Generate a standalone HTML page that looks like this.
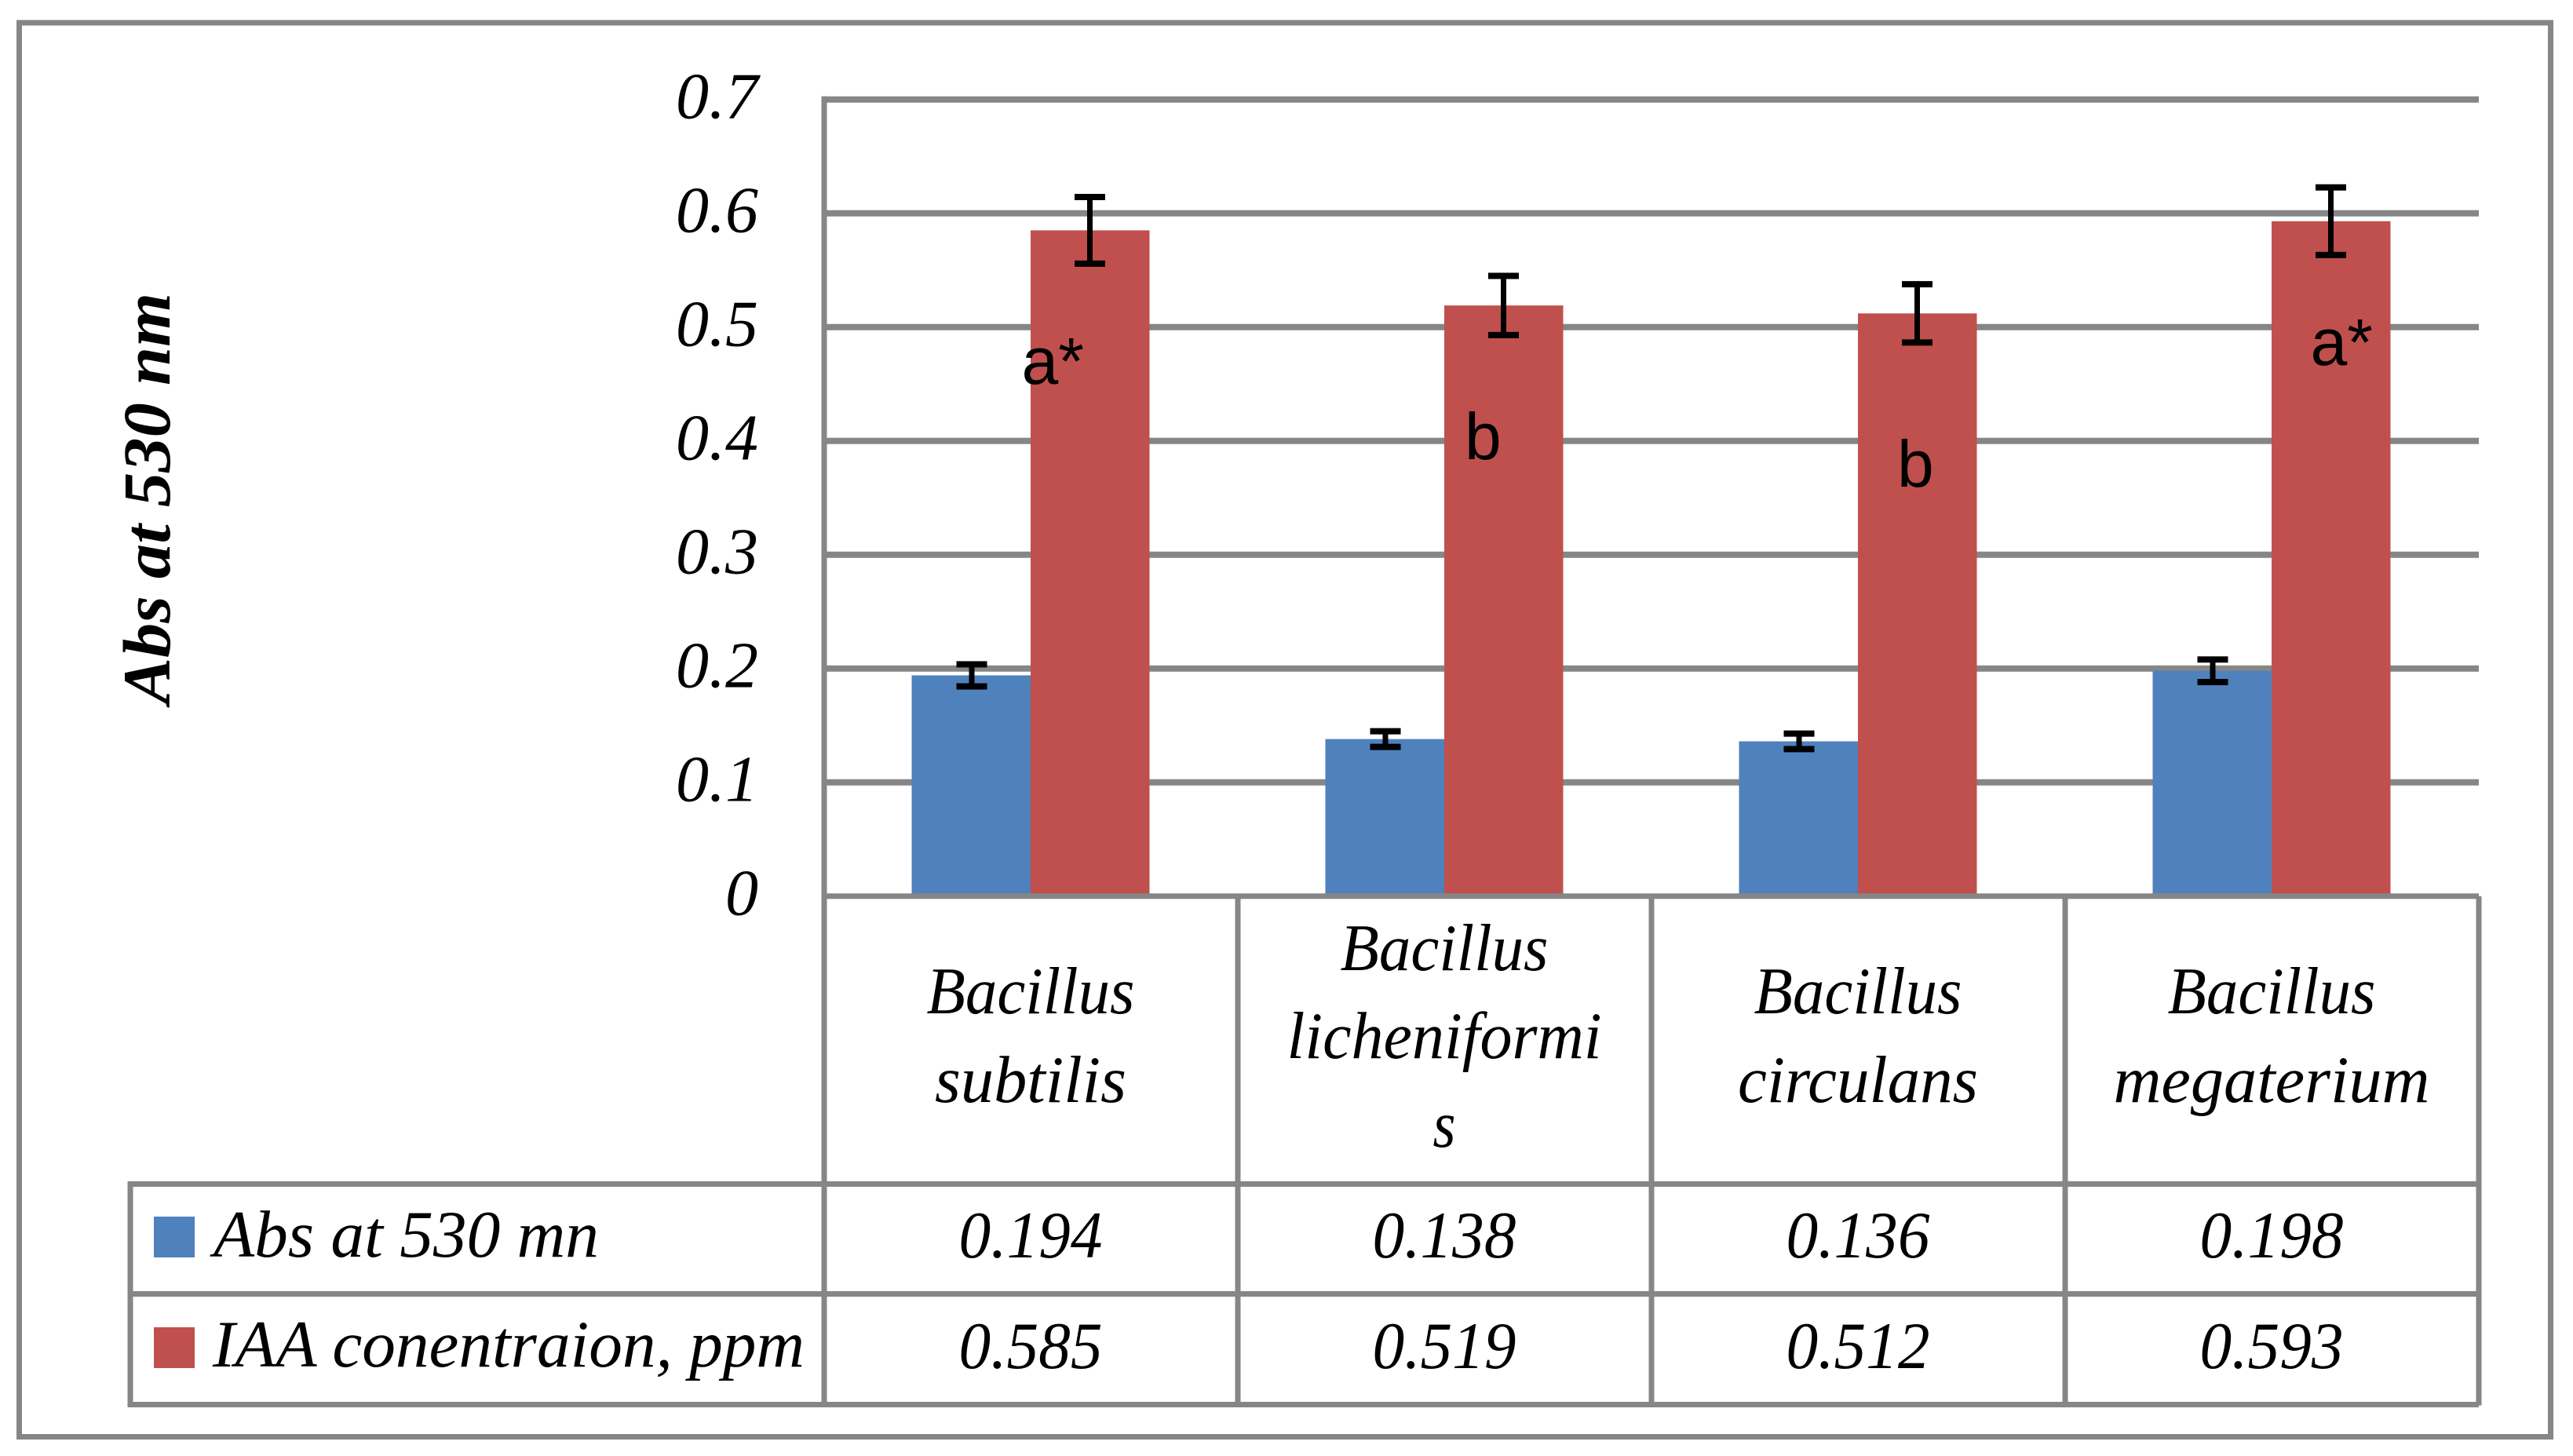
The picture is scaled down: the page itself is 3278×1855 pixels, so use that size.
<!DOCTYPE html>
<html lang="en">
<head>
<meta charset="utf-8">
<title>Abs at 530 nm and IAA concentration by Bacillus species</title>
<style>
html,body{margin:0;padding:0;background:#fff;}
svg{display:block;}
.serif{font-family:"Liberation Serif",serif;font-style:italic;fill:#000;}
.sans{font-family:"Liberation Sans",sans-serif;fill:#000;}
</style>
</head>
<body>
<svg id="chart" xmlns="http://www.w3.org/2000/svg" width="3278" height="1855" viewBox="0 0 3278 1855">
  <rect x="0" y="0" width="3278" height="1855" fill="#ffffff"/>
  <rect x="24.5" y="29" width="3225" height="1801.5" fill="none" stroke="#868686" stroke-width="7"/>
  <text class="serif" font-weight="bold" font-size="86" text-anchor="middle" textLength="524" lengthAdjust="spacingAndGlyphs" transform="translate(216 635) rotate(-90)">Abs at 530 nm</text>
</svg>
<script>
const categories = [['Bacillus','subtilis'],['Bacillus','licheniformi','s'],['Bacillus','circulans'],['Bacillus','megaterium']];
const seriesNames = ['Abs at 530 mn','IAA conentraion, ppm'];
const absValues = [0.194,0.138,0.136,0.198];
const iaaValues = [0.585,0.519,0.512,0.593];
const absErrors = [0.0097,0.0069,0.0068,0.0099];
const iaaErrors = [0.0293,0.0260,0.0256,0.0297];
const tickValues = [0,0.1,0.2,0.3,0.4,0.5,0.6,0.7];
const tickLabels = ['0','0.1','0.2','0.3','0.4','0.5','0.6','0.7'];
const significance = ['a*','b','b','a*'];

const svg = document.getElementById('chart');
const NS = 'http://www.w3.org/2000/svg';
const GRAY = '#868686';
const BLUE = '#4F81BD';
const RED = '#C0504D';
const PLOT = {left:1050, gridEnd:3158, top:126.7, zero:1141.7, pxPerUnit:1450, catWidth:527, barWidth:151.5};
const ROWS = {catBottom:1508.5, absBottom:1648.5, iaaBottom:1789.5, tableLeft:166};
const lineWidths = {'Bacillus':265,'subtilis':244,'licheniformi':401,'s':29,'circulans':306,'megaterium':403};
const catBaselines = {2:[1291,1404],3:[1236,1348,1461]};
const sigOffsetX = [-11.5,26,50,49.5];
const sigOffsetY = [195.5,195.9,220.7,183.2];

function yScale(v){ return PLOT.zero - v*PLOT.pxPerUnit; }
function xCenter(i){ return PLOT.left + PLOT.catWidth*(i+0.5) - 0.5; }

function mk(tag, attrs, txt){
  const el = document.createElementNS(NS, tag);
  for (const k in attrs) el.setAttribute(k, attrs[k]);
  if (txt !== undefined) el.textContent = txt;
  svg.appendChild(el);
  return el;
}
function ln(x1,y1,x2,y2,color,w){
  return mk('line',{x1:x1,y1:y1,x2:x2,y2:y2,stroke:color,'stroke-width':w});
}

// gridlines and tick labels
tickValues.forEach(function(v,i){
  const y = yScale(v);
  if (v !== 0) {
    const g = ln(PLOT.left-3,y,PLOT.gridEnd,y,GRAY,8);
    
    
  }
  const t = mk('text',{class:'serif','font-size':84,x:966,y:y+24,'text-anchor':'end'},tickLabels[i]);
  
  
});

// bars
absValues.forEach(function(v,i){
  const cx = xCenter(i);
  const b = mk('rect',{x:cx-PLOT.barWidth,y:yScale(v),width:PLOT.barWidth,height:PLOT.zero-yScale(v),fill:BLUE});
  
  
});
iaaValues.forEach(function(v,i){
  const cx = xCenter(i);
  const b = mk('rect',{x:cx,y:yScale(v),width:PLOT.barWidth,height:PLOT.zero-yScale(v),fill:RED});
  
  
});

// table lines
const axisV = ln(PLOT.left,PLOT.top-4,PLOT.left,ROWS.iaaBottom+3,GRAY,7);


const axisH = ln(PLOT.left-3,PLOT.zero,PLOT.gridEnd,PLOT.zero,GRAY,7);


[ROWS.catBottom,ROWS.absBottom,ROWS.iaaBottom].forEach(function(y,i){
  const l = ln(ROWS.tableLeft-3,y,PLOT.gridEnd,y,GRAY,7);
  
  
});
const tl = ln(ROWS.tableLeft,ROWS.catBottom-3,ROWS.tableLeft,ROWS.iaaBottom+3,GRAY,7);


categories.forEach(function(c,i){
  const x = PLOT.left + PLOT.catWidth*(i+1);
  const l = ln(x,PLOT.zero,x,ROWS.iaaBottom+1,GRAY,7);
  
  
});

// error bars
function errorBar(cx,v,e,name){
  const yTop = yScale(v+e), yBot = yScale(v-e);
  const s = ln(cx,yTop,cx,yBot,'#000',7);
  
  
  const c1 = ln(cx-19.5,yTop,cx+19.5,yTop,'#000',8);
  
  
  const c2 = ln(cx-19.5,yBot,cx+19.5,yBot,'#000',8);
  
  
}
absValues.forEach(function(v,i){ errorBar(xCenter(i)-75,v,absErrors[i],'error-bar-abs-'+i); });
iaaValues.forEach(function(v,i){ errorBar(xCenter(i)+75.5,v,iaaErrors[i],'error-bar-iaa-'+i); });

// significance letters
significance.forEach(function(s,i){
  const t = mk('text',{class:'sans','font-size':84,x:xCenter(i)+sigOffsetX[i],y:yScale(iaaValues[i])+sigOffsetY[i]},s);
  
  
});

// category labels
categories.forEach(function(lines,i){
  const ys = catBaselines[lines.length];
  lines.forEach(function(line,j){
    const t = mk('text',{class:'serif','font-size':85,x:xCenter(i),y:ys[j],'text-anchor':'middle',textLength:lineWidths[line],lengthAdjust:'spacingAndGlyphs'},line);
    
    
  });
});

// data table values
absValues.forEach(function(v,i){
  const t = mk('text',{class:'serif','font-size':85,x:xCenter(i),y:1602,'text-anchor':'middle',textLength:183,lengthAdjust:'spacingAndGlyphs'},v.toFixed(3));
  
  
});
iaaValues.forEach(function(v,i){
  const t = mk('text',{class:'serif','font-size':85,x:xCenter(i),y:1743,'text-anchor':'middle',textLength:183,lengthAdjust:'spacingAndGlyphs'},v.toFixed(3));
  
  
});

// legend keys
const k1 = mk('rect',{x:196,y:1550,width:52,height:52,fill:BLUE});


const k2 = mk('rect',{x:196,y:1691,width:52,height:52,fill:RED});


const n1 = mk('text',{class:'serif','font-size':85,x:272,y:1601,textLength:491,lengthAdjust:'spacingAndGlyphs'},seriesNames[0]);


const n2 = mk('text',{class:'serif','font-size':85,x:271,y:1741,textLength:754,lengthAdjust:'spacingAndGlyphs'},seriesNames[1]);


</script>
</body>
</html>
